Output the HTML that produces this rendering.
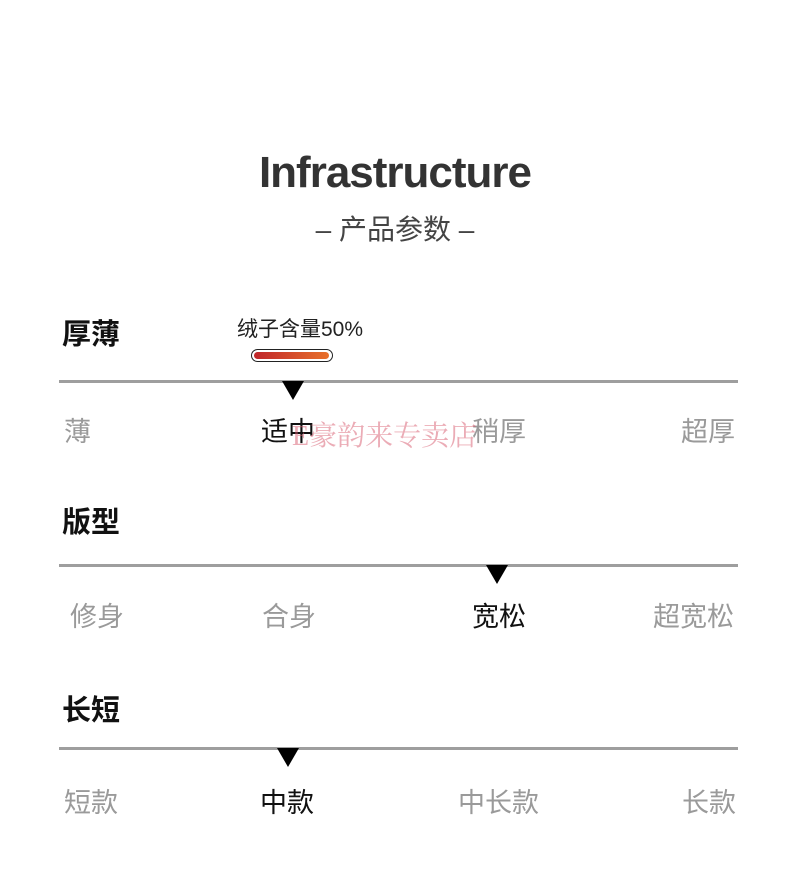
<!DOCTYPE html>
<html><head><meta charset="utf-8"><style>
body{margin:0;width:790px;height:873px;background:#fff;position:relative;font-family:"Liberation Sans","Noto Sans CJK SC",sans-serif;overflow:hidden}
.a{position:absolute;white-space:nowrap}
.t{font-size:29px;font-weight:bold;color:#111}
.l{font-size:27px;color:#9a9a9a}
.k{color:#111}
.line{position:absolute;left:59px;width:679px;height:3px;background:#9e9e9e}
.tri{position:absolute;width:0;height:0;border-left:11px solid transparent;border-right:11px solid transparent;border-top:19px solid #000}
</style></head><body>
<div class="a" style="left:0;width:790px;text-align:center;top:148px;font-size:44px;font-weight:bold;color:#333;letter-spacing:-1px">Infrastructure</div>
<div class="a" style="left:0;width:790px;text-align:center;top:208px;font-size:28px;color:#444">– 产品参数 –</div>

<div class="a t" style="left:62px;top:311px">厚薄</div>
<div class="a" style="left:237px;top:313px;font-size:21px;color:#222">绒子含量50%</div>
<div class="a" style="left:251px;top:349px;width:80px;height:11px;border:1.5px solid #222;border-radius:7px"></div>
<div class="a" style="left:254px;top:352px;width:75px;height:7px;border-radius:4px;background:linear-gradient(90deg,#c0262a,#e8702a)"></div>
<div class="line" style="top:380px"></div>
<div class="tri" style="left:282px;top:381px"></div>
<div class="a l" style="left:64px;top:410px">薄</div>
<div class="a l k" style="left:261px;top:410px">适中</div>
<div class="a l" style="left:472px;top:410px">稍厚</div>
<div class="a l" style="left:681px;top:410px">超厚</div>
<div class="a" style="left:292px;top:414px;font-size:28px;color:rgba(215,90,110,0.5);font-family:'Liberation Serif','Noto Serif CJK SC',serif">E豪韵来专卖店</div>

<div class="a t" style="left:62px;top:499px">版型</div>
<div class="line" style="top:564px"></div>
<div class="tri" style="left:486px;top:565px"></div>
<div class="a l" style="left:70px;top:595px">修身</div>
<div class="a l" style="left:262px;top:595px">合身</div>
<div class="a l k" style="left:472px;top:595px">宽松</div>
<div class="a l" style="left:653px;top:595px">超宽松</div>

<div class="a t" style="left:62px;top:687px">长短</div>
<div class="line" style="top:747px"></div>
<div class="tri" style="left:277px;top:748px"></div>
<div class="a l" style="left:64px;top:781px">短款</div>
<div class="a l k" style="left:260px;top:781px">中款</div>
<div class="a l" style="left:458px;top:781px">中长款</div>
<div class="a l" style="left:682px;top:781px">长款</div>
</body></html>
